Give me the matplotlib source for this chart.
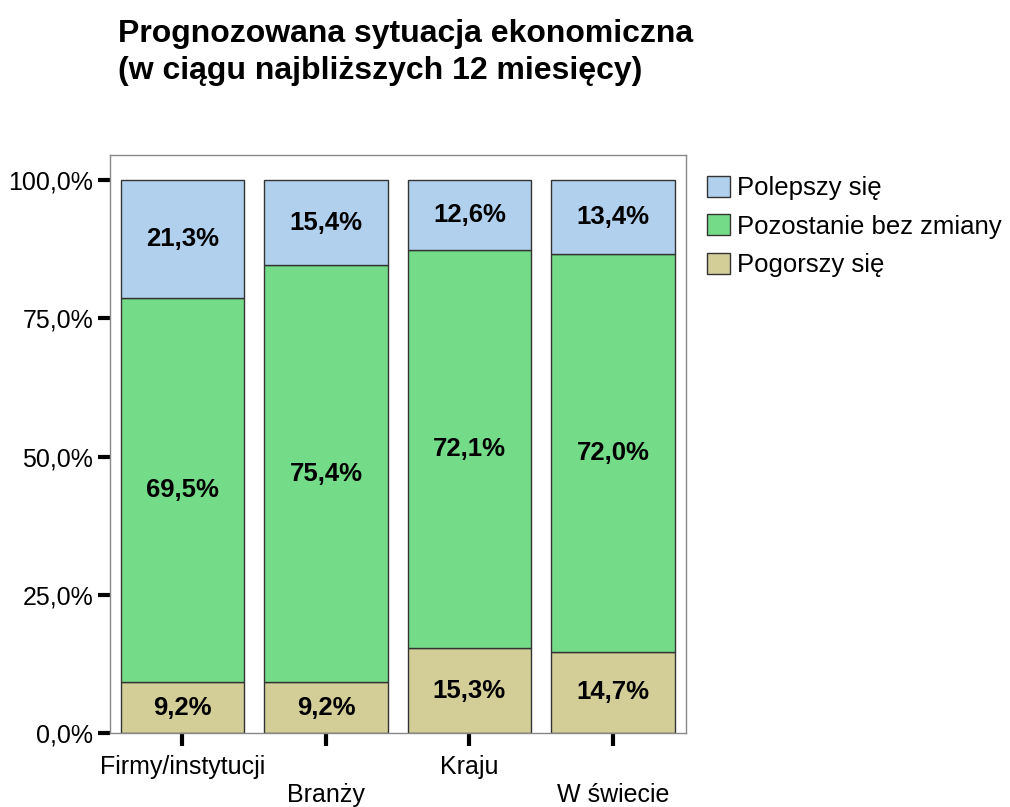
import matplotlib.pyplot as plt
import numpy as np

plt.rcParams['font.family'] = ['Liberation Sans', 'DejaVu Sans']

categories = ['Firmy/instytucji', 'Branży', 'Kraju', 'W świecie']
series_names = ['Pogorszy się', 'Pozostanie bez zmiany', 'Polepszy się']
pogorszy = [9.2, 9.2, 15.3, 14.7]
bez_zmian = [69.5, 75.4, 72.1, 72.0]
polepszy = [21.3, 15.4, 12.6, 13.4]
colors = ['#d3ce98', '#74dc88', '#b0d0ee']
ytick_values = [0, 25, 50, 75, 100]

fig = plt.figure(figsize=(10.1, 8.07), dpi=100)
ax = fig.add_axes([0.1089, 0.0917, 0.5703, 0.716])

x = np.arange(len(categories))
bottom = np.zeros(len(categories))
handles = []
for vals, name, col in zip([pogorszy, bez_zmian, polepszy], series_names, colors):
    vals = np.array(vals)
    bars = ax.bar(x, vals, width=0.86, bottom=bottom, color=col,
                  edgecolor='#333333', linewidth=1.0, label=name)
    handles.append(bars)
    for xi, b, v in zip(x, bottom, vals):
        ax.text(xi, b + v / 2, f'{v:.1f}%'.replace('.', ','), ha='center', va='center',
                fontsize=18.5, fontweight='bold')
    bottom += vals

ax.set_xlim(-0.505, 3.51)
ax.set_ylim(0, 104.5)
ax.set_yticks(ytick_values)
ax.set_yticklabels([f'{v:.1f}%'.replace('.', ',') for v in ytick_values], fontsize=18)
ax.set_xticks(x)
ax.set_xticklabels([c if i % 2 == 0 else '\n' + c for i, c in enumerate(categories)], fontsize=18)
ax.tick_params(axis='y', length=9, width=3, direction='out', pad=3)
ax.tick_params(axis='x', length=9, width=3, direction='out', pad=7)
for s in ax.spines.values():
    s.set_color('#888888')
    s.set_linewidth(1.0)

fig.text(0.117, 0.976, 'Prognozowana sytuacja ekonomiczna\n(w ciągu najbliższych 12 miesięcy)',
         fontsize=23, fontweight='bold', ha='left', va='top', linespacing=1.3)

leg = ax.legend(handles=handles[::-1], loc='upper left', bbox_to_anchor=(0.700, 0.782),
                bbox_transform=fig.transFigure, frameon=False, fontsize=18.5,
                handlelength=0.88, handleheight=0.88, handletextpad=0.3, labelspacing=0.55,
                borderaxespad=0, borderpad=0)

fig.savefig('out.png', dpi=100)
